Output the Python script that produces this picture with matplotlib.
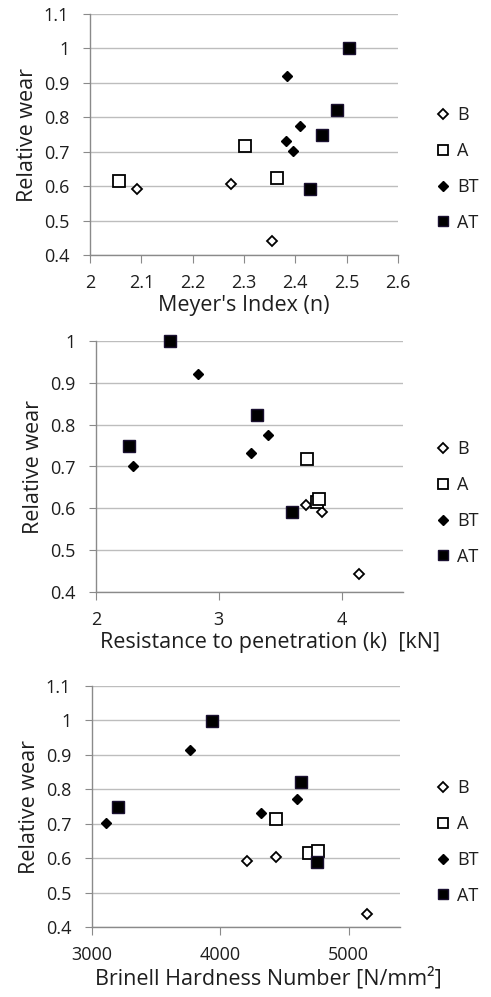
import matplotlib
matplotlib.use("Agg")
import matplotlib.pyplot as plt
from matplotlib.ticker import FuncFormatter, MultipleLocator

plt.rcParams['font.family'] = ['Open Sans', 'DejaVu Sans']

series = ["B", "A", "BT", "AT"]
wear = {
    "B": [0.592, 0.607, 0.442],
    "A": [0.615, 0.718, 0.623],
    "BT": [0.920, 0.775, 0.732, 0.701],
    "AT": [1.000, 0.822, 0.749, 0.591],
}
meyer_n = {
    "B": [2.092, 2.274, 2.355],
    "A": [2.056, 2.301, 2.364],
    "BT": [2.384, 2.409, 2.382, 2.395],
    "AT": [2.505, 2.481, 2.451, 2.429],
}
resist_k = {
    "B": [3.842, 3.714, 4.141],
    "A": [3.800, 3.720, 3.813],
    "BT": [2.833, 3.403, 3.262, 2.301],
    "AT": [2.600, 3.308, 2.271, 3.596],
}
brinell = {
    "B": [4206, 4433, 5140],
    "A": [4690, 4436, 4759],
    "BT": [3761, 4596, 4314, 3106],
    "AT": [3937, 4625, 3204, 4752],
}
wear_panel3 = {
    "B": [0.591, 0.603, 0.438],
    "A": [0.616, 0.715, 0.622],
    "BT": [0.915, 0.772, 0.731, 0.702],
    "AT": [0.999, 0.821, 0.749, 0.589],
}

styles = {
    "B": dict(marker="D", ms=5.3, mfc="white", mec="black", mew=1.3),
    "A": dict(marker="s", ms=8.5, mfc="white", mec="black", mew=1.3),
    "BT": dict(marker="D", ms=5.3, mfc="black", mec="black", mew=1.0),
    "AT": dict(marker="s", ms=9.3, mfc="black", mec="#1a1030", mew=1.0),
}
legend_ms = {"B": 4.8, "A": 6.5, "BT": 4.6, "AT": 7.3}

W, H = 491, 997
fig = plt.figure(figsize=(W / 100, H / 100), dpi=100)

GRID = "#bdbdbd"
SPINE = "#8a8a8a"
TXT = "#1e1e1e"
TFS = 13
LFS = 15.5

def fmt(v, pos):
    return "%g" % round(v, 4)

def panel(rect, xdata, ydata, xlim, xstep, ylim, xlabel, xlabel_x, leg_y):
    ax = fig.add_axes([rect[0] / W, 1 - rect[3] / H, (rect[2] - rect[0]) / W, (rect[3] - rect[1]) / H])
    for s in series:
        st = styles[s]
        ax.plot(xdata[s], ydata[s], linestyle="none", label=s, clip_on=False, zorder=3, **st)
    ax.set_xlim(*xlim)
    ax.set_ylim(*ylim)
    ax.xaxis.set_major_locator(MultipleLocator(xstep))
    ax.yaxis.set_major_locator(MultipleLocator(0.1))
    ax.xaxis.set_major_formatter(FuncFormatter(fmt))
    ax.yaxis.set_major_formatter(FuncFormatter(fmt))
    ax.grid(axis="y", color=GRID, lw=1.0)
    ax.set_axisbelow(True)
    for sp in ["top", "right"]:
        ax.spines[sp].set_visible(False)
    for sp in ["left", "bottom"]:
        ax.spines[sp].set_color(SPINE)
        ax.spines[sp].set_linewidth(1.0)
    ax.tick_params(axis="x", direction="out", length=6, color=SPINE, labelsize=TFS, labelcolor=TXT, pad=8)
    ax.tick_params(axis="y", direction="out", length=5, color=SPINE, labelsize=TFS, labelcolor=TXT, pad=10)
    ax.set_xlabel(xlabel, fontsize=LFS, color=TXT, labelpad=2)
    ax.xaxis.label.set_x((xlabel_x - rect[0]) / (rect[2] - rect[0]))
    ax.set_ylabel("Relative wear", fontsize=LFS, color=TXT, labelpad=4)
    leg = ax.legend(loc="center left", bbox_to_anchor=(438 / W, 1 - leg_y / H),
                    bbox_transform=fig.transFigure, frameon=False, fontsize=TFS,
                    handlelength=0.6, handletextpad=0.45, labelspacing=0.98,
                    borderpad=0, borderaxespad=0, labelcolor=TXT)
    for h, s in zip(leg.legend_handles, series):
        h.set_markersize(legend_ms[s])
    return ax

panel((90, 14, 398, 255), meyer_n, wear, (2.0, 2.6), 0.1, (0.4, 1.1), "Meyer's Index (n)", 244, 169)
panel((96, 341, 403, 592), resist_k, wear, (2.0, 4.5), 1.0, (0.4, 1.0), "Resistance to penetration (k)  [kN]", 270, 503)
panel((92, 686, 400, 927), brinell, wear_panel3, (3000, 5400), 1000, (0.4, 1.1), "Brinell Hardness Number [N/mm²]", 268, 842)

fig.savefig("out.png", dpi=100, facecolor="white")
